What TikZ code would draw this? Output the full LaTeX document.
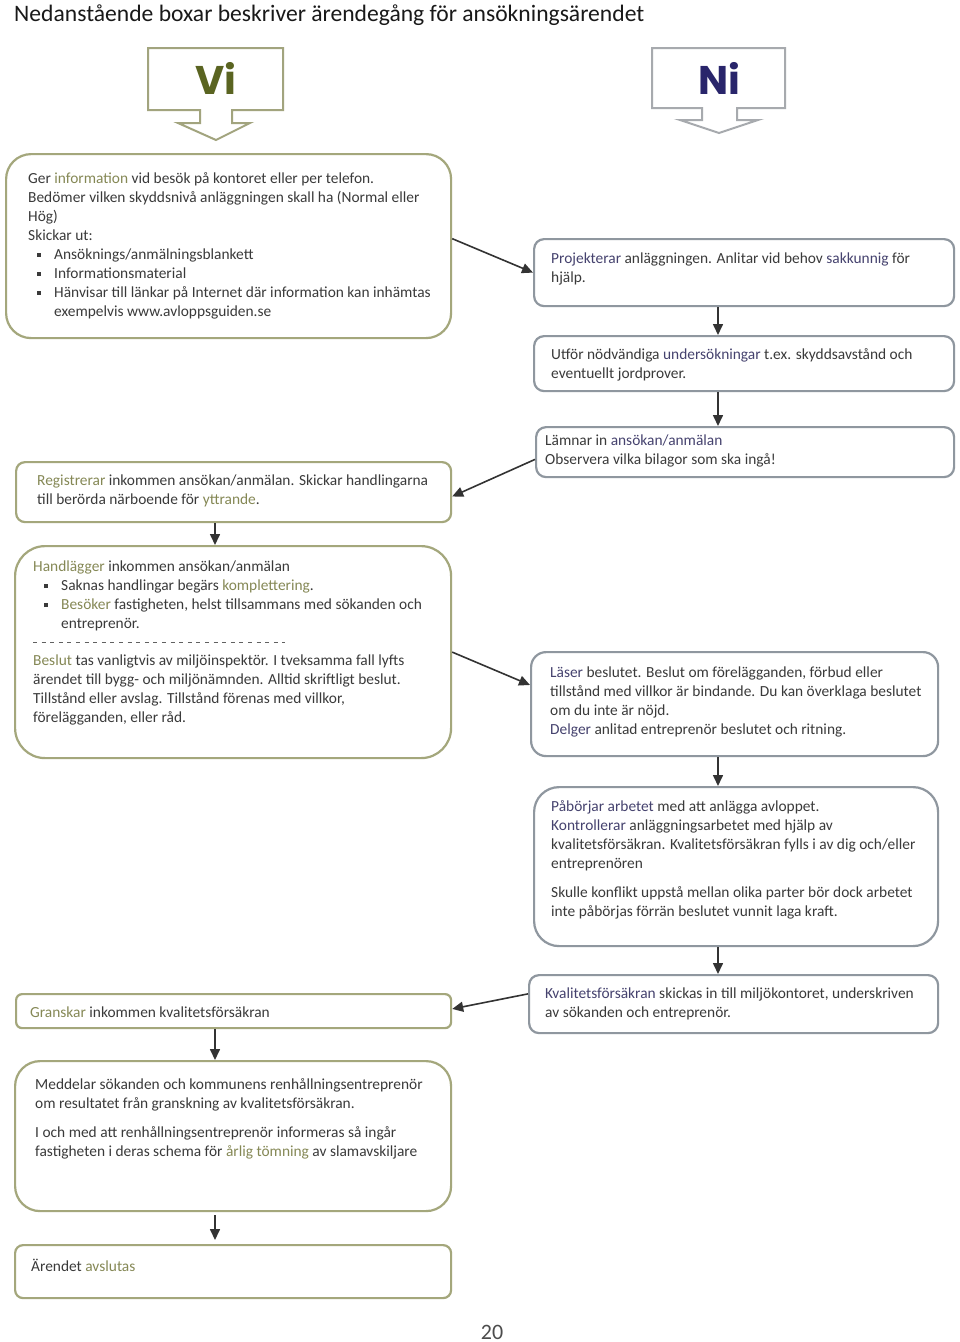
\documentclass[tikz,border=0pt]{standalone}
\usepackage{fontspec}
\setmainfont{Carlito}
\newfontfamily\popfont{Poppins}
\usetikzlibrary{calc,arrows.meta}
\definecolor{txtc}{HTML}{3A3A3A}
\definecolor{olivehl}{HTML}{858855}
\definecolor{navyhl}{HTML}{45426E}
\definecolor{oliveb}{HTML}{A4A77C}
\definecolor{grayb}{HTML}{8F979F}
\definecolor{vic}{HTML}{5A6421}
\definecolor{nic}{HTML}{29256B}
\definecolor{arrc}{HTML}{333333}
\definecolor{viarr}{HTML}{A2A47E}
\definecolor{niarr}{HTML}{A7AAAE}
\newcommand\oli[1]{\textcolor{olivehl}{#1}}
\newcommand\nvy[1]{\textcolor{navyhl}{#1}}
\newcommand\bul{\rule[2.8pt]{4pt}{4pt}}
\newcommand\bitem[1]{\hspace*{#1}\makebox[17pt][l]{\bul}}
\begin{document}
\begin{tikzpicture}[x=1pt,y=-1pt,
  lbox/.style={draw=oliveb, line width=2.2pt, fill=white, anchor=north west, inner sep=0pt},
  rbox/.style={draw=grayb, line width=2.2pt, fill=white, anchor=north west, inner sep=0pt},
  txt/.style={anchor=north west, inner sep=0pt, align=left, text=txtc, font=\fontsize{15.4}{19}\selectfont},
  arr/.style={draw=arrc, line width=1.6pt, -{Triangle[length=11pt,width=10pt]}}]
\useasboundingbox (0,0) rectangle (960,1342);
\fill[white] (0,0) rectangle (960,1342);

% title
\node[anchor=base west, inner sep=0pt, font=\fontsize{23.6}{28}\selectfont, text=black!90] (title) at (14,21) {Nedanstående boxar beskriver ärendegång för ansökningsärendet};

% header arrows
\draw[draw=viarr, line width=2pt, fill=white, line join=miter]
  (148,48) -- (283,48) -- (283,110) -- (232,110) -- (232,123) -- (250,123) -- (216,140)
  -- (178,123) -- (200,123) -- (200,110) -- (148,110) -- cycle;
\node[font=\popfont\bfseries\fontsize{40}{40}\selectfont, text=vic, inner sep=0pt] (vi) at (216,78) {Vi};
\draw[draw=niarr, line width=2pt, fill=white, line join=miter]
  (652,48) -- (785,48) -- (785,108) -- (737,108) -- (737,120) -- (758,120) -- (719,133)
  -- (680,120) -- (702,120) -- (702,108) -- (652,108) -- cycle;
\node[font=\popfont\bfseries\fontsize{40}{40}\selectfont, text=nic, inner sep=0pt] (ni) at (719,78) {Ni};

% boxes
\node[lbox, rounded corners=25pt, minimum width=445pt, minimum height=184pt] (A) at (5,153) {};
\node[rbox, rounded corners=10pt, minimum width=420pt, minimum height=67pt] (P) at (533,238) {};
\node[rbox, rounded corners=10pt, minimum width=420pt, minimum height=55pt] (U) at (533,335) {};
\node[rbox, rounded corners=10pt, minimum width=418pt, minimum height=50pt] (L) at (535,426) {};
\node[lbox, rounded corners=9pt, minimum width=435pt, minimum height=60pt] (R) at (15,461) {};
\node[lbox, rounded corners=30pt, minimum width=436pt, minimum height=212pt] (H) at (14,545) {};
\node[rbox, rounded corners=15pt, minimum width=407pt, minimum height=104pt] (Ls) at (530,651) {};
\node[rbox, rounded corners=25pt, minimum width=404pt, minimum height=159pt] (Pb) at (533,786) {};
\node[rbox, rounded corners=10pt, minimum width=409pt, minimum height=58pt] (K) at (528,974) {};
\node[lbox, rounded corners=6pt, minimum width=435pt, minimum height=34pt] (G) at (15,993) {};
\node[lbox, rounded corners=25pt, minimum width=436pt, minimum height=150pt] (M) at (14,1060) {};
\node[lbox, rounded corners=8pt, minimum width=436pt, minimum height=53pt] (E) at (14,1244) {};

% texts
\node[txt] (At) at (28,172.5) {Ger \oli{information} vid besök på kontoret eller per telefon.\\
Bedömer vilken skyddsnivå anläggningen skall ha (Normal eller\\
Hög)\\
Skickar ut:\\
\bitem{9pt}Ansöknings/anmälningsblankett\\
\bitem{9pt}Informationsmaterial\\
\bitem{9pt}Hänvisar till länkar på Internet där information kan inhämtas\\
\hspace*{26pt}exempelvis www.avloppsguiden.se};

\node[txt] (Pt) at (551,253) {\nvy{Projekterar} anläggningen. Anlitar vid behov \nvy{sakkunnig} för\\
hjälp.};
\node[txt] (Ut) at (551,348) {Utför nödvändiga \nvy{undersökningar} t.ex. skyddsavstånd och\\
eventuellt jordprover.};
\node[txt] (Lt) at (545,435) {Lämnar in \nvy{ansökan/anmälan}\\
Observera vilka bilagor som ska ingå!};
\node[txt] (Rt) at (37,475) {\oli{Registrerar} inkommen ansökan/anmälan. Skickar handlingarna\\
till berörda närboende för \oli{yttrande}.};
\node[txt] (Ht) at (33,561) {\oli{Handlägger} inkommen ansökan/anmälan\\
\bitem{11pt}Saknas handlingar begärs \oli{komplettering}.\\
\bitem{11pt}\oli{Besöker} fastigheten, helst tillsammans med sökanden och\\
\hspace*{28pt}entreprenör.\\[18pt]
\oli{Beslut} tas vanligtvis av miljöinspektör. I tveksamma fall lyfts\\
ärendet till bygg- och miljönämnden. Alltid skriftligt beslut.\\
Tillstånd eller avslag. Tillstånd förenas med villkor,\\
förelägganden, eller råd.};
\draw[draw=txtc!80, line width=0.9pt, dash pattern=on 4pt off 4.6pt] (33,642) -- (285,642);

\node[txt] (Lst) at (550,667) {\nvy{Läser} beslutet. Beslut om förelägganden, förbud eller\\
tillstånd med villkor är bindande. Du kan överklaga beslutet\\
om du inte är nöjd.\\
\nvy{Delger} anlitad entreprenör beslutet och ritning.};
\node[txt] (Pbt) at (551,800) {\nvy{Påbörjar arbetet} med att anlägga avloppet.\\
\nvy{Kontrollerar} anläggningsarbetet med hjälp av\\
kvalitetsförsäkran. Kvalitetsförsäkran fylls i av dig och/eller\\
entreprenören\\[10pt]
Skulle konflikt uppstå mellan olika parter bör dock arbetet\\
inte påbörjas förrän beslutet vunnit laga kraft.};
\node[txt] (Kt) at (545,988) {\nvy{Kvalitetsförsäkran} skickas in till miljökontoret, underskriven\\
av sökanden och entreprenör.};
\node[txt] (Gt) at (30,1007) {\oli{Granskar} inkommen kvalitetsförsäkran};
\node[txt] (Mt) at (35,1078) {Meddelar sökanden och kommunens renhållningsentreprenör\\
om resultatet från granskning av kvalitetsförsäkran.\\[10pt]
I och med att renhållningsentreprenör informeras så ingår\\
fastigheten i deras schema för \oli{årlig tömning} av slamavskiljare};
\node[txt] (Et) at (31,1259) {Ärendet \oli{avslutas}};

% page number
\node[anchor=base, inner sep=0pt, font=\fontsize{22}{26}\selectfont, text=black!70] (page) at (492,1339) {20};

% connectors
\coordinate (colL) at (215,0);
\coordinate (colR) at (718,0);
\draw[arr] ($(A.north east)!0.46!(A.south east)$) -- (P.west);
\draw[arr] (P.south -| colR) -- (U.north -| colR);
\draw[arr] (U.south -| colR) -- (L.north -| colR);
\draw[arr] ($(L.north west)!0.64!(L.south west)$) -- ($(R.north east)!0.57!(R.south east)$);
\draw[arr] (R.south -| colL) -- (H.north -| colL);
\draw[arr] (H.east) -- ($(Ls.north west)!0.32!(Ls.south west)$);
\draw[arr] (Ls.south -| colR) -- (Pb.north -| colR);
\draw[arr] (Pb.south -| colR) -- (K.north -| colR);
\draw[arr] ($(K.north west)!0.33!(K.south west)$) -- ($(G.north east)!0.44!(G.south east)$);
\draw[arr] (G.south -| colL) -- (M.north -| colL);
\draw[arr] ($(M.south -| colL)+(0,3)$) -- ($(E.north -| colL)+(0,-4)$);
\end{tikzpicture}
\end{document}
